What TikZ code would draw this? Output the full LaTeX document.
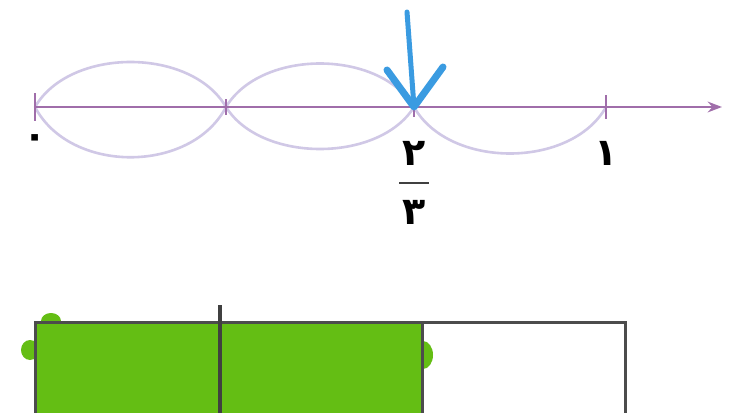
\documentclass[tikz,border=0pt]{standalone}
\usepackage{fontspec}
\newfontfamily\arabicfont[Script=Arabic]{DejaVu Sans}
\usetikzlibrary{arrows.meta}
\definecolor{axis}{RGB}{160,110,170}
\definecolor{lens}{RGB}{208,200,230}
\definecolor{pen}{RGB}{58,155,225}
\definecolor{paint}{RGB}{100,190,20}
\tikzset{
  digit/.style={font=\arabicfont\bfseries\fontsize{38}{38}\selectfont, inner sep=0pt},
  hop/.style={lens, line width=2.6pt}
}

\begin{document}
\begin{tikzpicture}[x=1pt, y=-1pt, >=Stealth]
    \useasboundingbox (0,0) rectangle (733,412);
    \fill[white] (0,0) rectangle (733,412);
    % number line
    \coordinate (t0) at (35,107);
    \coordinate (t1) at (226,107);
    \coordinate (t2) at (414,107);
    \coordinate (t3) at (606,107);
    \coordinate (end) at (722,107);
    \draw[hop] (t0) .. controls +(35,-60) and +(-35,-60) .. (t1);
    \draw[hop] (t0) .. controls +(35,67) and +(-35,67) .. (t1);
    \draw[hop] (t1) .. controls +(35,-58) and +(-35,-58) .. (t2);
    \draw[hop] (t1) .. controls +(35,56) and +(-35,56) .. (t2);
    \draw[hop] (t2) .. controls +(35,62) and +(-35,62) .. (t3);
    \draw[->, axis, line width=2.5pt] (t0) -- (end);
    \foreach \t/\h in {t0/14, t1/8, t2/10, t3/12}
        \draw[axis, line width=2pt] (\t) ++(0,-\h) -- ++(0,2*\h);
    \node[digit] (zero) at (35,142) {۰};
    \node[digit] (two) at (414,153) {۲};
    \node[digit] (three) at (414,212) {۳};
    \draw[line width=2.2pt, black!75] (399,183) -- (429,183);
    \node[digit] (one) at (606,153) {۱};
    % pointer
    \coordinate (top) at (407,12);
    \draw[pen, line width=5pt, line cap=round] (top) -- (t2);
    \draw[pen, line width=7pt, line cap=round, line join=round] (387,70) -- (t2) -- (443,67);
    % bar
    \fill[paint] (51,321) ellipse (10 and 8);
    \fill[paint] (30,350) ellipse (9 and 10);
    \fill[paint] (423,355) ellipse (10 and 14);
    \fill[paint] (35,322) rectangle (422,415);
    \draw[black!70, line width=3pt] (35,322) rectangle (625,420);
    \draw[black!70, line width=3pt] (422,322) -- (422,415);
    \draw[black!75, line width=4pt] (220,305) -- (220,415);
\end{tikzpicture}
\end{document}
